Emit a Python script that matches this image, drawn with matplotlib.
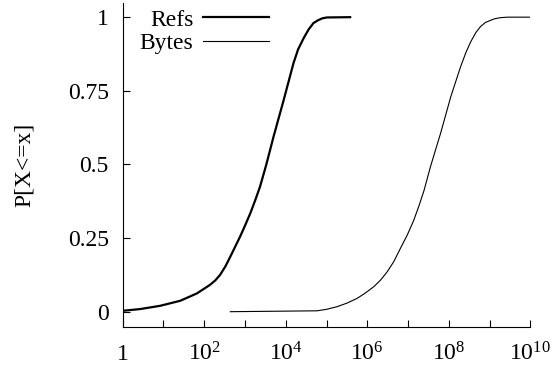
import numpy as np
import matplotlib
matplotlib.use("Agg")
import matplotlib.pyplot as plt

plt.rcParams['font.family'] = ['Liberation Serif', 'DejaVu Serif']
plt.rcParams['mathtext.fontset'] = 'custom'
plt.rcParams['mathtext.rm'] = 'Liberation Serif'
plt.rcParams['mathtext.it'] = 'Liberation Serif'
plt.rcParams['mathtext.default'] = 'rm'

# CDF
refs_x = [1, 2.7, 8.3, 25.7, 66, 138, 186, 245, 331, 437, 759, 1000, 1349,
          1778, 2344, 3311, 5012, 8913, 1.549e4, 2.0e4, 2.754e4, 3.63e4,
          4.786e4, 6.3e4, 7.9e4, 1.02e5, 3.8e5]
refs_y = [0.003, 0.009, 0.02, 0.037, 0.062, 0.091, 0.106, 0.125, 0.154,
          0.187, 0.255, 0.292, 0.334, 0.378, 0.425, 0.498, 0.594, 0.719,
          0.844, 0.89, 0.929, 0.958, 0.980, 0.990, 0.996, 0.999, 1.0]

bytes_x = [437, 5.9e4, 1.0e5, 1.82e5, 3.16e5, 5.6e5, 8.9e5, 1.45e6, 2.14e6,
           3.1e6, 4.47e6, 6.5e6, 9.55e6, 1.38e7, 1.86e7, 2.45e7, 3.6e7,
           6.3e7, 1.12e8, 1.95e8, 2.63e8, 3.47e8, 4.57e8, 6.0e8, 7.9e8,
           1.29e9, 1.78e9, 2.7e9, 1.0e10]
bytes_y = [0.0, 0.003, 0.008, 0.017, 0.029, 0.045, 0.063, 0.085, 0.108,
           0.136, 0.17, 0.215, 0.26, 0.31, 0.36, 0.41, 0.495, 0.606, 0.73,
           0.832, 0.88, 0.917, 0.947, 0.968, 0.982, 0.994, 0.998, 1.0, 1.0]

xticks = [1, 1e1, 1e2, 1e3, 1e4, 1e5, 1e6, 1e7, 1e8, 1e9, 1e10]
xlabels = ['1', '', '$10^{2}$', '', '$10^{4}$', '', '$10^{6}$', '',
           '$10^{8}$', '', '$10^{10}$']
yticks = [0, 0.25, 0.5, 0.75, 1]
ylabels = ['0', '0.25', '0.5', '0.75', '1']

fig = plt.figure(figsize=(5.52, 3.69), dpi=100)
ax = fig.add_axes([0.2223, 0.1146, 0.7384, 0.8764])

ax.plot(refs_x, refs_y, color='black', lw=1.6, label='Refs')
ax.plot(bytes_x, bytes_y, color='black', lw=0.8, label='Bytes')

ax.set_xscale('log')
ax.set_xlim(1, 1e10)
ax.set_ylim(-0.051, 1.047)
ax.set_xticks(xticks)
ax.set_xticklabels(xlabels)
ax.minorticks_off()
ax.set_yticks(yticks)
ax.set_yticklabels(ylabels)
ax.tick_params(direction='in', length=5, width=0.8, labelsize=17, pad=10)
ax.tick_params(axis='x', pad=24)
for lbl in ax.get_xticklabels():
    lbl.set_verticalalignment('baseline')

for s in ['top', 'right']:
    ax.spines[s].set_visible(False)
for s in ['left', 'bottom']:
    ax.spines[s].set_linewidth(0.8)

ax.set_ylabel('P[X<=x]', fontsize=17, labelpad=24)

ax.legend(loc='upper left', bbox_to_anchor=(0.007, 1.026), frameon=False,
          markerfirst=False, fontsize=17, handlelength=2.8,
          handletextpad=0.4, labelspacing=0.1, borderaxespad=0.2)

fig.savefig('out.png', dpi=100)
